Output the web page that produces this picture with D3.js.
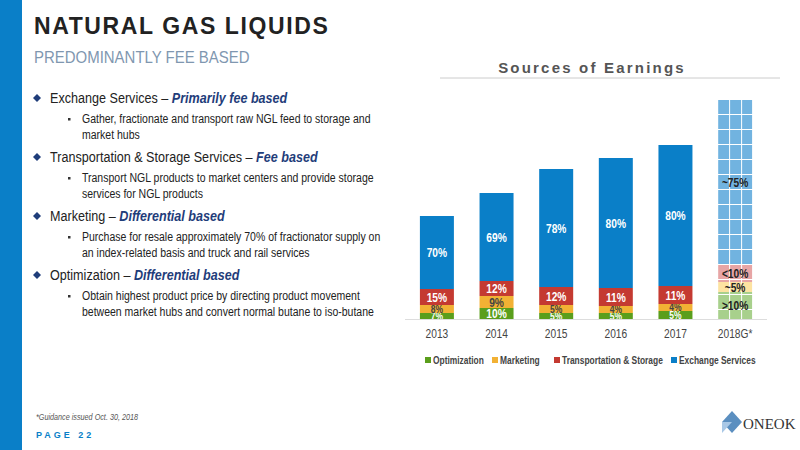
<!DOCTYPE html>
<html><head><meta charset="utf-8">
<script src="https://cdn.jsdelivr.net/npm/d3@7"></script>
<style>body{margin:0;background:#fff}svg{display:block;font-family:Arial,"Liberation Sans",sans-serif}</style>
</head><body><svg id="c" width="800" height="450"></svg>
<script>
const years = ["2013","2014","2015","2016","2017","2018G*"];
const optimization = [6,11,6,6,8,27];
const marketing = [8,12,8,7,7,10];
const transportation = [16,15,18,18,18,18];
const exchange = [73,88,118,130,141,164];
const optLabels = ["7%","10%","5%","5%","5%",">10%"];
const mktLabels = ["8%","9%","5%","4%","4%","~5%"];
const tsLabels = ["15%","12%","12%","11%","11%","<10%"];
const exLabels = ["70%","69%","78%","80%","80%","~75%"];
const seriesNames = ["Optimization","Marketing","Transportation & Storage","Exchange Services"];

const svg = d3.select("#c");
const colors = ["#5a9e1c","#f2b134","#c43a31","#0a7fc8"];
const light = ["#a8d08c","#fde3a1","#e7a5a5","#71b3e0"];
function narrow(sel,f){sel.each(function(){const L=this.getComputedTextLength();d3.select(this).attr("textLength",L*f).attr("lengthAdjust","spacingAndGlyphs");});}

svg.append("rect").attr("x",0).attr("y",0).attr("width",22).attr("height",450).attr("fill","#0a7fc8");
svg.append("text").attr("x",34).attr("y",34).attr("font-size",23).attr("font-weight","bold").attr("letter-spacing",1.6).attr("fill","#222").text("NATURAL GAS LIQUIDS");
narrow(svg.append("text").attr("x",34).attr("y",63).attr("font-size",17).attr("fill","#7f97b0").text("PREDOMINANTLY FEE BASED"),0.88);
const bullets = [
 {y:103, a:"Exchange Services – ", b:"Primarily fee based", subs:["Gather, fractionate and transport raw NGL feed to storage and","market hubs"]},
 {y:162, a:"Transportation & Storage Services – ", b:"Fee based", subs:["Transport NGL products to market centers and provide storage","services for NGL products"]},
 {y:221, a:"Marketing – ", b:"Differential based", subs:["Purchase for resale approximately 70% of fractionator supply on","an index-related basis and truck and rail services"]},
 {y:280, a:"Optimization – ", b:"Differential based", subs:["Obtain highest product price by directing product movement","between market hubs and convert normal butane to iso-butane"]}
];
bullets.forEach(d=>{
  svg.append("path").attr("d",`M${37},${d.y-9}l4,4l-4,4l-4,-4z`).attr("fill","#1f3d7a");
  const t = svg.append("text").attr("transform",`translate(50,${d.y}) scale(0.84,1)`).attr("font-size",15).attr("fill","#222");
  t.append("tspan").text(d.a);
  t.append("tspan").attr("font-weight","bold").attr("font-style","italic").attr("fill","#1f3d7a").text(d.b);
  svg.append("rect").attr("x",68).attr("y",d.y+15).attr("width",2.5).attr("height",2.5).attr("fill","#333");
  d.subs.forEach((s,i)=>narrow(svg.append("text").attr("x",82).attr("y",d.y+20+i*16).attr("font-size",12.5).attr("fill","#222").text(s),0.84));
});
narrow(svg.append("text").attr("x",36).attr("y",420).attr("font-size",8.5).attr("font-style","italic").attr("fill","#555").text("*Guidance issued Oct. 30, 2018"),0.85);
svg.append("text").attr("x",36).attr("y",438).attr("font-size",9).attr("font-weight","bold").attr("letter-spacing",3).attr("fill","#0a7fc8").text("PAGE 22");
svg.append("path").attr("d","M722,422l10,-11l10,11l-10,11z").attr("fill","#5b8fc0");
svg.append("path").attr("d","M722,422l10,0l-10,11z").attr("fill","#a9c8e6");
svg.append("text").attr("x",743).attr("y",429).attr("font-size",15).attr("font-family","Liberation Serif,serif").attr("fill","#333").text("ONEOK");

svg.append("text").attr("x",592).attr("y",73).attr("text-anchor","middle").attr("font-size",15).attr("font-weight","bold").attr("letter-spacing",2.2).attr("fill","#555").text("Sources of Earnings");
svg.append("line").attr("x1",440).attr("x2",780).attr("y1",78).attr("y2",78).attr("stroke","#ccc");

const x = d3.scaleBand().domain(years).range([405,767]).paddingInner(0.43).paddingOuter(0.25);
const y = d3.scaleLinear().domain([0,219]).range([319,100]);
const rows = years.map((yr,i)=>({year:yr,s0:optimization[i],s1:marketing[i],s2:transportation[i],s3:exchange[i]}));
const stack = d3.stack().keys(["s0","s1","s2","s3"])(rows);
const labels = [optLabels,mktLabels,tsLabels,exLabels];
const defs = svg.append("defs");
light.forEach((c,k)=>{
  const p = defs.append("pattern").attr("id","p"+k).attr("patternUnits","userSpaceOnUse").attr("width",12).attr("height",15).attr("x",x("2018G*")).attr("y",100);
  p.append("rect").attr("width",12).attr("height",15).attr("fill",c);
  p.append("line").attr("x1",11.5).attr("x2",11.5).attr("y1",0).attr("y2",15).attr("stroke","#fff").attr("stroke-width",1);
  p.append("line").attr("x1",0).attr("x2",12).attr("y1",14.5).attr("y2",14.5).attr("stroke","#fff").attr("stroke-width",1);
});
stack.forEach((layer,k)=>{
  layer.forEach((d,i)=>{
    const yr = years[i], last = i===years.length-1;
    const h = y(d[0])-y(d[1]);
    svg.append("rect").attr("x",x(yr)).attr("width",x.bandwidth()).attr("y",y(d[1])).attr("height",h)
      .attr("fill",last?`url(#p${k})`:colors[k]);
    narrow(svg.append("text").attr("x",x(yr)+x.bandwidth()/2).attr("y",(y(d[0])+y(d[1]))/2+(h<10?3.5:4.5))
      .attr("text-anchor","middle").attr("font-size",h<10?10:12).attr("font-weight","bold")
      .attr("fill",last?"#222":(k===1?"#444":"#fff")).text(labels[k][i]),0.85);
  });
});
svg.append("line").attr("x1",405).attr("x2",767).attr("y1",319.5).attr("y2",319.5).attr("stroke","#ddd");
const ax = svg.append("g").attr("transform","translate(0,320)").call(d3.axisBottom(x).tickSize(0).tickPadding(9));
ax.select(".domain").remove();
ax.selectAll("text").attr("font-size",12).attr("fill","#444").attr("font-family","Arial,Liberation Sans,sans-serif");
narrow(ax.selectAll("text"),0.85);

const lg = [[425,0],[492,1],[554,2],[671,3]];
lg.forEach(([lx,k])=>{
  svg.append("rect").attr("x",lx).attr("y",357).attr("width",6).attr("height",6).attr("fill",colors[k]);
  narrow(svg.append("text").attr("x",lx+8).attr("y",364).attr("font-size",10.5).attr("font-weight","bold").attr("fill","#444").text(seriesNames[k]),0.8);
});
</script></body></html>
